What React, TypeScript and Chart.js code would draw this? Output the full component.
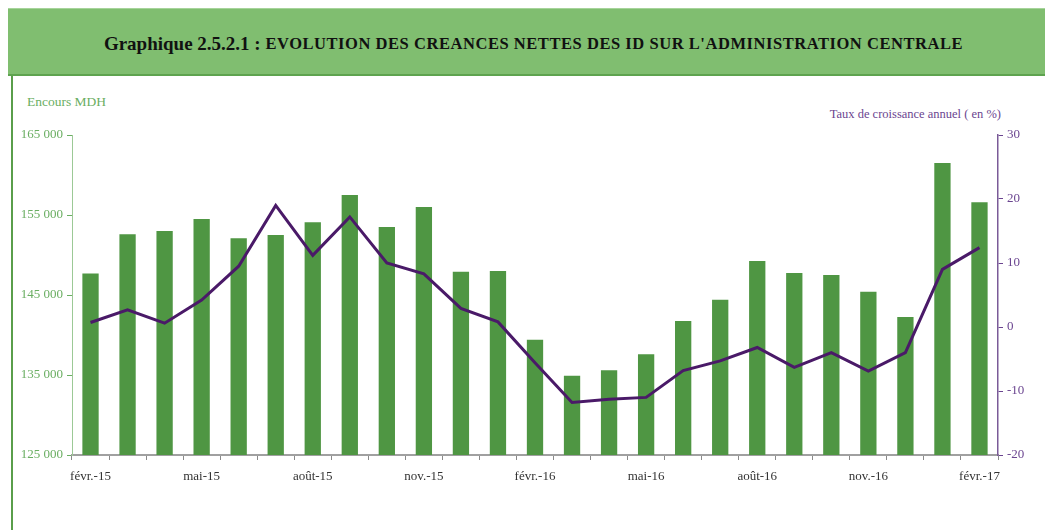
import React, { useEffect, useRef } from "react";
import { Chart, registerables } from "chart.js";

Chart.register(...registerables);

const months = [
  "févr.-15", "mars-15", "avr.-15", "mai-15", "juin-15", "juil.-15", "août-15", "sept.-15", "oct.-15",
  "nov.-15", "déc.-15", "janv.-16", "févr.-16", "mars-16", "avr.-16", "mai-16", "juin-16", "juil.-16",
  "août-16", "sept.-16", "oct.-16", "nov.-16", "déc.-16", "janv.-17", "févr.-17",
];

const encours = [
  147700, 152600, 153000, 154500, 152100, 152500, 154100, 157500, 153500,
  156000, 147900, 148000, 139400, 134900, 135600, 137600, 141750, 144400,
  149250, 147750, 147500, 145400, 142250, 161500, 156600,
];

const croissance = [
  0.7, 2.7, 0.6, 4.2, 9.5, 19.0, 11.2, 17.2, 10.0,
  8.3, 2.9, 0.8, -5.6, -11.8, -11.3, -11.0, -6.8, -5.3,
  -3.2, -6.3, -4.0, -6.9, -4.0, 9.0, 12.4,
];

const leftTicks = [125000, 135000, 145000, 155000, 165000];
const rightTicks = [-20, -10, 0, 10, 20, 30];

const GREEN_BAR = "#4f9643";
const GREEN_TEXT = "#6aae62";
const PURPLE_LINE = "#4a1a68";
const PURPLE_TEXT = "#6b4590";
const FONT = "'Liberation Serif', 'DejaVu Serif', serif";

function fmt(v: number) {
  return String(v).replace(/\B(?=(\d{3})+(?!\d))/g, " ");
}

export default function App() {
  const canvasRef = useRef<HTMLCanvasElement | null>(null);

  useEffect(() => {
    if (!canvasRef.current) return;
    const chart = new Chart(canvasRef.current, {
      type: "bar",
      data: {
        labels: months,
        datasets: [
          {
            type: "line",
            label: "Taux de croissance annuel",
            data: croissance,
            yAxisID: "y1",
            borderColor: PURPLE_LINE,
            backgroundColor: PURPLE_LINE,
            borderWidth: 3,
            pointRadius: 0,
            tension: 0,
            order: 1,
          } as any,
          {
            type: "bar",
            label: "Encours MDH",
            data: encours,
            yAxisID: "y",
            backgroundColor: GREEN_BAR,
            barPercentage: 0.44,
            categoryPercentage: 1,
            order: 2,
          },
        ],
      },
      options: {
        animation: false,
        responsive: false,
        maintainAspectRatio: false,
        layout: { padding: { top: 55, left: 0, right: 0, bottom: 0 } },
        plugins: {
          legend: { display: false },
          tooltip: { enabled: false },
        },
        scales: {
          x: {
            offset: true,
            grid: {
              offset: true,
              drawOnChartArea: false,
              drawTicks: true,
              tickLength: 5,
              color: "#8a8a8a",
            },
            border: { display: true, color: "#a0a0a0", width: 2 },
            ticks: {
              autoSkip: false,
              maxRotation: 0,
              minRotation: 0,
              padding: 9,
              color: "#333333",
              font: { family: FONT, size: 13 },
              callback: (_v: any, i: number) => (i % 3 === 0 ? months[i] : ""),
            },
            afterFit: (s: any) => {
              s.height = 75;
            },
          },
          y: {
            position: "left",
            min: leftTicks[0],
            max: leftTicks[leftTicks.length - 1],
            afterBuildTicks: (s: any) => {
              s.ticks = leftTicks.map((v) => ({ value: v }));
            },
            grid: {
              drawOnChartArea: false,
              drawTicks: true,
              tickLength: 5,
              color: GREEN_TEXT,
            },
            border: { display: true, color: "#9cc996", width: 1 },
            ticks: {
              padding: 4,
              color: GREEN_TEXT,
              font: { family: FONT, size: 13 },
              callback: (v: any) => fmt(Number(v)),
            },
            afterFit: (s: any) => {
              s.width = 62;
            },
          },
          y1: {
            position: "right",
            min: rightTicks[0],
            max: rightTicks[rightTicks.length - 1],
            afterBuildTicks: (s: any) => {
              s.ticks = rightTicks.map((v) => ({ value: v }));
            },
            grid: {
              drawOnChartArea: false,
              drawTicks: true,
              tickLength: 5,
              color: PURPLE_TEXT,
            },
            border: { display: true, color: "#7a5a98", width: 1.5 },
            ticks: {
              padding: 4,
              color: PURPLE_TEXT,
              font: { family: FONT, size: 13 },
            },
            afterFit: (s: any) => {
              s.width = 47;
            },
          },
        },
      },
    });
    return () => chart.destroy();
  }, []);

  return (
    <div style={{ position: "absolute", left: 0, top: 0, width: 1045, height: 530, background: "#ffffff", overflow: "hidden" }}>
      <div
        style={{
          position: "absolute",
          left: 8,
          top: 8,
          width: 1037,
          height: 68,
          background: "#80be70",
          borderTop: "1px solid #a6d49a",
          borderBottom: "2px solid #5ea34f",
          boxSizing: "border-box",
          display: "flex",
          alignItems: "center",
          justifyContent: "center",
          fontFamily: FONT,
          fontWeight: "bold",
          color: "#111",
          paddingLeft: 14,
          paddingTop: 4,
          whiteSpace: "nowrap",
        }}
      >
        <span style={{ fontSize: 19 }}>Graphique 2.5.2.1 :&nbsp;</span>
        <span style={{ fontSize: 16.5, letterSpacing: 0.55 }}>EVOLUTION DES CREANCES NETTES DES ID SUR L'ADMINISTRATION CENTRALE</span>
      </div>
      <div style={{ position: "absolute", left: 11, top: 76, width: 2, height: 454, background: "#5a9e4b" }} />
      <div style={{ position: "absolute", left: 27, top: 94, fontFamily: FONT, fontSize: 13.5, color: GREEN_TEXT }}>
        Encours MDH
      </div>
      <div style={{ position: "absolute", right: 44, top: 107, fontFamily: FONT, fontSize: 12.5, color: PURPLE_TEXT }}>
        Taux de croissance annuel ( en %)
      </div>
      <canvas
        ref={canvasRef}
        width={1035}
        height={450}
        style={{ position: "absolute", left: 10, top: 80, width: 1035, height: 450 }}
      />
    </div>
  );
}
